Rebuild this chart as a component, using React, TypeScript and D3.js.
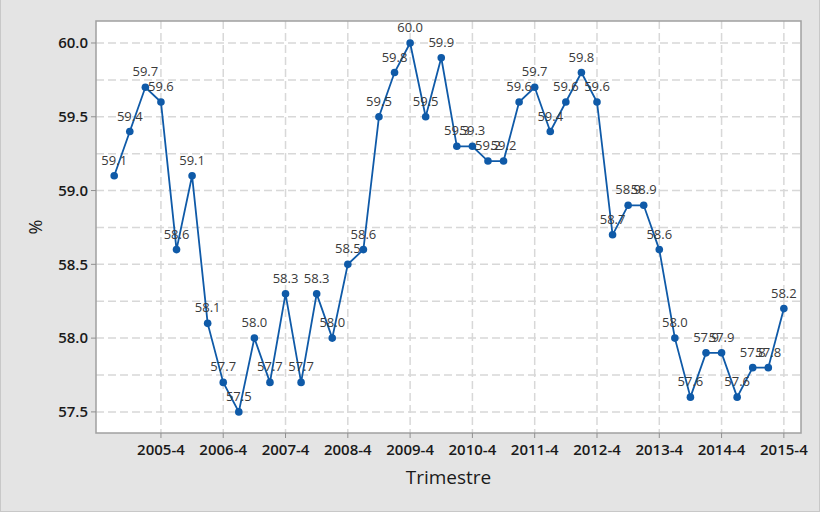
import React, { useEffect, useRef } from "react";
import * as d3 from "d3";

// Quarterly series, 2005-1 .. 2015-4
const quarters: string[] = [];
for (let y = 2005; y <= 2015; y++) for (let q = 1; q <= 4; q++) quarters.push(`${y}-${q}`);

const values = [
  59.1, 59.4, 59.7, 59.6,
  58.6, 59.1, 58.1, 57.7,
  57.5, 58.0, 57.7, 58.3,
  57.7, 58.3, 58.0, 58.5,
  58.6, 59.5, 59.8, 60.0,
  59.5, 59.9, 59.3, 59.3,
  59.2, 59.2, 59.6, 59.7,
  59.4, 59.6, 59.8, 59.6,
  58.7, 58.9, 58.9, 58.6,
  58.0, 57.6, 57.9, 57.9,
  57.6, 57.8, 57.8, 58.2,
];

const xTickLabels = ["2005-4", "2006-4", "2007-4", "2008-4", "2009-4", "2010-4", "2011-4", "2012-4", "2013-4", "2014-4", "2015-4"];
const yTicks = [57.5, 58.0, 58.5, 59.0, 59.5, 60.0];
const yGrid = [57.5, 57.75, 58.0, 58.25, 58.5, 58.75, 59.0, 59.25, 59.5, 59.75, 60.0];

const W = 820;
const H = 512;

export default function App() {
  const svgRef = useRef<SVGSVGElement | null>(null);

  useEffect(() => {
    if (!svgRef.current) return;
    const svg = d3.select(svgRef.current);
    svg.selectAll("*").remove();

    const plot = { left: 96, right: 801, top: 21, bottom: 433 };
    const font = "'Open Sans', 'DejaVu Sans', sans-serif";

    // outer panel
    svg.append("rect").attr("x", 0).attr("y", 0).attr("width", W).attr("height", H).attr("fill", "#e4e4e4");
    svg.append("rect").attr("x", 0.5).attr("y", -2).attr("width", W - 1).attr("height", H + 1.5)
      .attr("fill", "none").attr("stroke", "#c8c8c8").attr("stroke-width", 1);

    const x = d3.scaleLinear().domain([-1.17, 44.1]).range([plot.left, plot.right]);
    const y = d3.scaleLinear().domain([57.357, 60.149]).range([plot.bottom, plot.top]);

    svg.append("rect")
      .attr("x", plot.left).attr("y", plot.top)
      .attr("width", plot.right - plot.left).attr("height", plot.bottom - plot.top)
      .attr("fill", "#ffffff");

    const g = svg.append("g");

    // dashed grid
    yGrid.forEach((v) => {
      g.append("line")
        .attr("x1", plot.left).attr("x2", plot.right)
        .attr("y1", y(v)).attr("y2", y(v))
        .attr("stroke", "#d8d8d8").attr("stroke-width", 1.5).attr("stroke-dasharray", "8,4");
    });
    xTickLabels.forEach((lab) => {
      const xp = x(quarters.indexOf(lab));
      g.append("line")
        .attr("x1", xp).attr("x2", xp)
        .attr("y1", plot.top).attr("y2", plot.bottom)
        .attr("stroke", "#d8d8d8").attr("stroke-width", 1.5).attr("stroke-dasharray", "8,4");
    });

    // frame
    svg.append("rect")
      .attr("x", plot.left).attr("y", plot.top)
      .attr("width", plot.right - plot.left).attr("height", plot.bottom - plot.top)
      .attr("fill", "none").attr("stroke", "#a0a0a0").attr("stroke-width", 1.5);

    // y ticks
    yTicks.forEach((v) => {
      svg.append("line")
        .attr("x1", plot.left - 5).attr("x2", plot.left)
        .attr("y1", y(v)).attr("y2", y(v))
        .attr("stroke", "#909090").attr("stroke-width", 1);
      svg.append("text")
        .attr("x", plot.left - 8).attr("y", y(v))
        .attr("dy", "0.35em").attr("text-anchor", "end")
        .attr("font-family", font).attr("font-size", 15).attr("font-weight", 600)
        .attr("fill", "#1a1a1a")
        .text(v.toFixed(1));
    });

    // x ticks
    xTickLabels.forEach((lab) => {
      const xp = x(quarters.indexOf(lab));
      svg.append("line")
        .attr("x1", xp).attr("x2", xp)
        .attr("y1", plot.bottom).attr("y2", plot.bottom + 5)
        .attr("stroke", "#909090").attr("stroke-width", 1);
      svg.append("text")
        .attr("x", xp).attr("y", plot.bottom + 22)
        .attr("text-anchor", "middle")
        .attr("font-family", font).attr("font-size", 15).attr("font-weight", 600)
        .attr("fill", "#1a1a1a")
        .text(lab);
    });

    // axis titles
    svg.append("text")
      .attr("x", (plot.left + plot.right) / 2).attr("y", 484)
      .attr("text-anchor", "middle")
      .attr("font-family", font).attr("font-size", 19)
      .attr("fill", "#1a1a1a")
      .text("Trimestre");
    svg.append("text")
      .attr("transform", `translate(42,${(plot.top + plot.bottom) / 2}) rotate(-90)`)
      .attr("text-anchor", "middle")
      .attr("font-family", font).attr("font-size", 18)
      .attr("fill", "#1a1a1a")
      .text("%");

    // series
    const line = d3.line<number>().x((_, i) => x(i)).y((d) => y(d));
    g.append("path")
      .datum(values)
      .attr("d", line)
      .attr("fill", "none")
      .attr("stroke", "#0f5aa8")
      .attr("stroke-width", 1.8);

    g.selectAll("circle.pt")
      .data(values)
      .enter()
      .append("circle")
      .attr("class", "pt")
      .attr("cx", (_, i) => x(i))
      .attr("cy", (d) => y(d))
      .attr("r", 3.8)
      .attr("fill", "#0f5aa8");

    g.selectAll("text.lbl")
      .data(values)
      .enter()
      .append("text")
      .attr("class", "lbl")
      .attr("x", (_, i) => x(i))
      .attr("y", (d) => y(d) - 11)
      .attr("text-anchor", "middle")
      .attr("font-family", font).attr("font-size", 13)
      .attr("fill", "#3a3a3a")
      .text((d) => d.toFixed(1));
  }, []);

  return (
    <svg
      ref={svgRef}
      width={W}
      height={H}
      style={{ position: "absolute", left: 0, top: 0, display: "block" }}
    />
  );
}
